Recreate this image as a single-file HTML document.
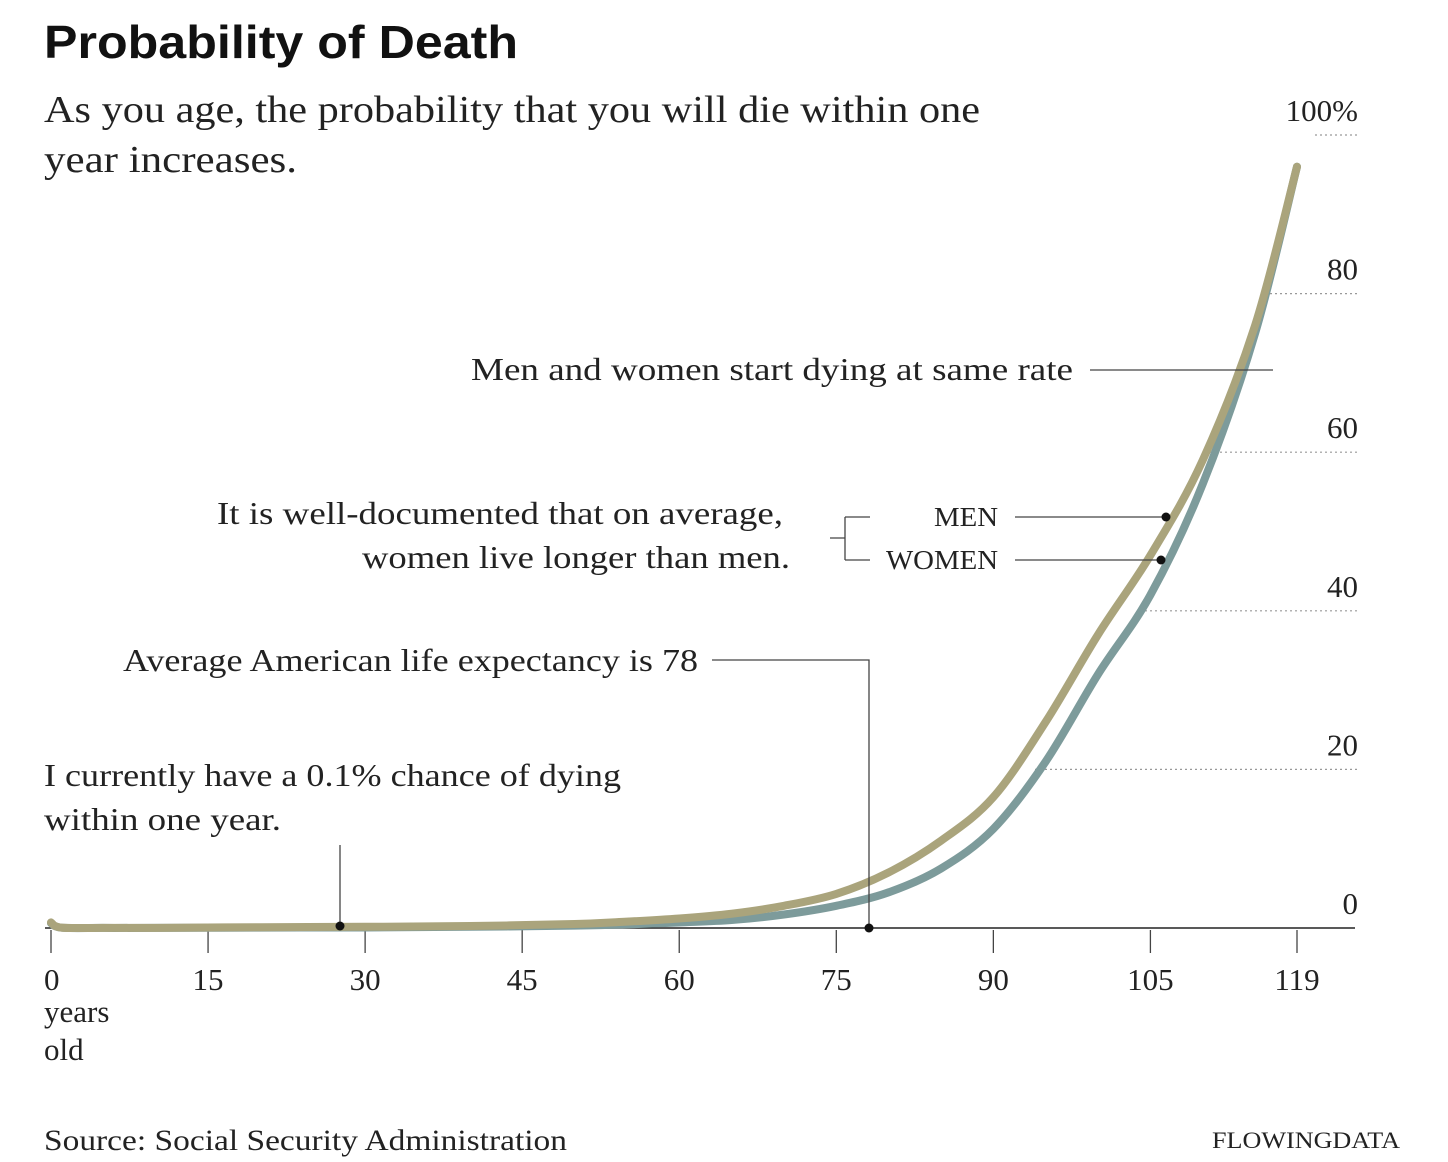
<!DOCTYPE html>
<html><head><meta charset="utf-8"><style>
body{margin:0;background:#fff;}
svg{display:block;}
.serif{font-family:"Liberation Serif",serif;fill:#222;}
</style></head><body>
<svg width="1448" height="1162" viewBox="0 0 1448 1162">
<text x="44" y="58" font-family="Liberation Sans, sans-serif" font-weight="bold" font-size="46" fill="#111" textLength="474" lengthAdjust="spacingAndGlyphs">Probability of Death</text>
<text class="serif" x="44" y="122" font-size="38" textLength="936" lengthAdjust="spacingAndGlyphs">As you age, the probability that you will die within one</text>
<text class="serif" x="44" y="172" font-size="38" textLength="253" lengthAdjust="spacingAndGlyphs">year increases.</text>
<g id="grid"></g>
<g id="axis"></g>
<g id="lines"></g>
<g id="annot">
<text class="serif" x="471" y="380" font-size="32" textLength="602" lengthAdjust="spacingAndGlyphs">Men and women start dying at same rate</text>
<line x1="1090" y1="370" x2="1273" y2="370" stroke="#444" stroke-width="1.3"/>
<text class="serif" x="217" y="524" font-size="32" textLength="566" lengthAdjust="spacingAndGlyphs">It is well-documented that on average,</text>
<text class="serif" x="362" y="568" font-size="32" textLength="428" lengthAdjust="spacingAndGlyphs">women live longer than men.</text>
<path d="M830 538H845M845 517V560M845 517H870M845 560H870" stroke="#444" stroke-width="1.3" fill="none"/>
<text class="serif" x="934" y="526" font-size="27" textLength="64" lengthAdjust="spacingAndGlyphs">MEN</text>
<text class="serif" x="886" y="569" font-size="27" textLength="112" lengthAdjust="spacingAndGlyphs">WOMEN</text>
<line x1="1015" y1="517" x2="1166" y2="517" stroke="#444" stroke-width="1.3"/>
<line x1="1015" y1="560" x2="1161" y2="560" stroke="#444" stroke-width="1.3"/>
<text class="serif" x="123" y="671" font-size="32" textLength="575" lengthAdjust="spacingAndGlyphs">Average American life expectancy is 78</text>
<path d="M712 660H869V928" stroke="#444" stroke-width="1.3" fill="none"/>
<text class="serif" x="44" y="786" font-size="32" textLength="577" lengthAdjust="spacingAndGlyphs">I currently have a 0.1% chance of dying</text>
<text class="serif" x="44" y="830" font-size="32" textLength="237" lengthAdjust="spacingAndGlyphs">within one year.</text>
<line x1="340" y1="845" x2="340" y2="926" stroke="#444" stroke-width="1.3"/>
</g>
<g id="dots"></g>
<text class="serif" font-size="31"><tspan x="44" y="1022">years</tspan><tspan x="44" y="1060">old</tspan></text>
<text class="serif" x="44" y="1150" font-size="30" textLength="523" lengthAdjust="spacingAndGlyphs">Source: Social Security Administration</text>
<text class="serif" x="1212" y="1148" font-size="23" textLength="188" lengthAdjust="spacingAndGlyphs">FLOWINGDATA</text>
</svg>
<script>
const ages=[0,1,5,10,20,30,40,50,55,60,65,70,75,80,85,90,95,100,105,110,115,119];
const menValues=[0.7,0.05,0.02,0.02,0.1,0.15,0.25,0.5,0.8,1.2,1.8,2.8,4.3,7,11,16.5,26,37,47,59,76,96];
const womenValues=[0.6,0.04,0.01,0.01,0.05,0.07,0.15,0.3,0.45,0.7,1.0,1.7,2.8,4.5,7.5,12.5,21,32,42,56,75,96];
const xTicks=[0,15,30,45,60,75,90,105,119];
const yTicks=[0,20,40,60,80,100];
const yTickLabels=["0","20","40","60","80","100%"];
const NS="http://www.w3.org/2000/svg";
function sx(a){return 51+a*(1297-51)/119;}
function sy(v){return 928-v*(928-135)/100;}
function mk(tag,attrs,parent){const e=document.createElementNS(NS,tag);for(const k in attrs)e.setAttribute(k,attrs[k]);parent.appendChild(e);return e;}
const grid=document.getElementById('grid'),axis=document.getElementById('axis'),lines=document.getElementById('lines'),dots=document.getElementById('dots');
const gridStart=[0,1035,1140,1210,1265,1315];
yTicks.forEach((t,i)=>{
  if(t>0){const l=mk('line',{x1:gridStart[i],x2:1360,y1:sy(t),y2:sy(t),stroke:'#999','stroke-width':1.2,'stroke-dasharray':'2 3'},grid);
  
  }
  const tx=mk('text',{x:1358,y:sy(t)-14,'font-size':31,'text-anchor':'end',class:'serif'},grid);
  tx.textContent=yTickLabels[i];
  
  
});
const ax=mk('line',{x1:45,x2:1355,y1:928,y2:928,stroke:'#222','stroke-width':1.5},axis);


xTicks.forEach(t=>{
  const l=mk('line',{x1:sx(t),x2:sx(t),y1:930,y2:953,stroke:'#444','stroke-width':1.3},axis);
  
  
  const tx=mk('text',{x:t===0?44:sx(t),y:990,'font-size':31,'text-anchor':t===0?'start':'middle',class:'serif'},axis);
  tx.textContent=t;
  
  
});
function pathFor(vals){
  const p=ages.map((a,i)=>[sx(a),sy(vals[i])]);
  let d='M'+p[0][0]+' '+p[0][1];
  for(let i=0;i<p.length-1;i++){
    const p0=p[Math.max(0,i-1)],p1=p[i],p2=p[i+1],p3=p[Math.min(p.length-1,i+2)];
    const c1=[p1[0]+(p2[0]-p0[0])/6,p1[1]+(p2[1]-p0[1])/6];
    const c2=[p2[0]-(p3[0]-p1[0])/6,p2[1]-(p3[1]-p1[1])/6];
    d+=` C${c1[0]} ${c1[1]} ${c2[0]} ${c2[1]} ${p2[0]} ${p2[1]}`;
  }
  return d;
}
const w=mk('path',{d:pathFor(womenValues),fill:'none',stroke:'#7d9b9b','stroke-width':8,'stroke-linecap':'round'},lines);


const m=mk('path',{d:pathFor(menValues),fill:'none',stroke:'#aaa47c','stroke-width':8,'stroke-linecap':'round'},lines);


[[1166,517,'men-dot'],[1161,560,'women-dot'],[869,928,'life-expectancy-dot'],[340,926,'current-age-dot']].forEach(d=>{
  const c=mk('circle',{cx:d[0],cy:d[1],r:4.5,fill:'#111'},dots);
  
  
});
</script>
</body></html>
